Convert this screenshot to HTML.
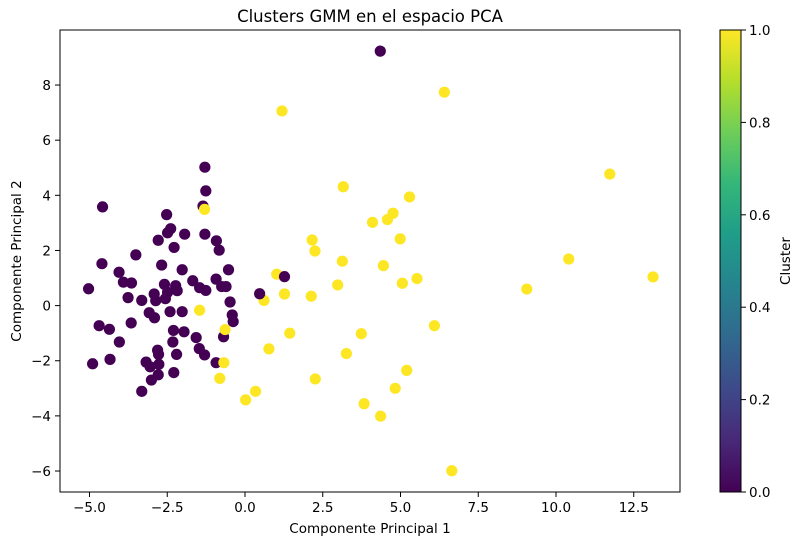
<!DOCTYPE html>
<html><head><meta charset="utf-8"><style>
body{margin:0;background:#fff;}
svg text{font-family:"DejaVu Sans","Liberation Sans",sans-serif;fill:#000;}
</style></head><body>
<svg id="chart" width="803" height="545" xmlns="http://www.w3.org/2000/svg">
<defs><linearGradient id="vir" x1="0" y1="1" x2="0" y2="0">
<stop offset="0" stop-color="#440154"/><stop offset="0.11" stop-color="#482878"/><stop offset="0.22" stop-color="#3e4989"/><stop offset="0.33" stop-color="#31688e"/><stop offset="0.44" stop-color="#26828e"/><stop offset="0.56" stop-color="#1f9e89"/><stop offset="0.67" stop-color="#35b779"/><stop offset="0.78" stop-color="#6ece58"/><stop offset="0.89" stop-color="#b5de2b"/><stop offset="1" stop-color="#fde725"/></linearGradient></defs>
<text x="370" y="22" text-anchor="middle" font-size="16.5">Clusters GMM en el espacio PCA</text>
<g id="points"></g>
<g id="axes"></g>
<rect x="60" y="30" width="620" height="462" fill="none" stroke="#000" stroke-width="1"/>
<text x="370" y="533" text-anchor="middle" font-size="13.5">Componente Principal 1</text>
<text transform="translate(21,261) rotate(-90)" text-anchor="middle" font-size="13.5">Componente Principal 2</text>
<rect x="720" y="30" width="21" height="462" fill="url(#vir)" stroke="#000" stroke-width="1"/>
<g id="cbar"></g>
<text transform="translate(790,261) rotate(-90)" text-anchor="middle" font-size="13.5">Cluster</text>
</svg>
<script>
const xVals=[-1.29,-1.26,-1.35,-4.58,-2.52,-2.39,-2.49,-1.94,-1.29,-2.79,-0.92,-2.28,-0.83,-3.51,-4.60,-2.68,-2.02,-0.53,-4.05,-0.93,-1.68,-3.91,-3.65,-2.59,-2.23,-1.46,-1.26,-0.75,-0.61,-5.03,-2.18,-2.49,-2.92,-3.76,-3.32,-2.87,-2.56,-0.48,-2.41,-2.02,-3.08,-2.91,-0.41,-0.38,-4.69,-4.36,-3.66,-2.30,-1.96,-1.57,-0.69,-2.32,-4.04,-1.47,-2.81,-2.78,-2.20,-1.30,-4.34,-4.90,-3.18,-3.05,-2.77,-0.93,-2.79,-2.29,-3.01,-3.32,4.35,
-1.30,-1.46,-0.64,-0.68,-0.81,3.16,5.29,4.76,4.58,4.10,4.99,2.16,2.25,3.13,4.45,1.02,5.53,5.06,2.98,1.27,2.13,0.61,6.09,1.44,3.74,0.77,3.26,5.20,2.26,4.83,0.34,0.02,3.83,4.36,1.19,6.41,11.73,10.41,9.06,13.12,6.65,
1.27,0.47];
const yVals=[5.02,4.16,3.61,3.58,3.30,2.79,2.64,2.59,2.59,2.37,2.35,2.11,2.01,1.84,1.52,1.47,1.30,1.30,1.21,0.96,0.90,0.85,0.82,0.77,0.72,0.65,0.55,0.69,0.69,0.61,0.54,0.48,0.42,0.29,0.19,0.18,0.25,0.13,-0.22,-0.22,-0.26,-0.44,-0.34,-0.58,-0.73,-0.86,-0.63,-0.90,-0.95,-1.16,-1.13,-1.32,-1.32,-1.56,-1.62,-1.77,-1.77,-1.79,-1.95,-2.11,-2.05,-2.22,-2.13,-2.07,-2.51,-2.43,-2.70,-3.11,9.23,
3.49,-0.17,-0.87,-2.07,-2.64,4.31,3.94,3.35,3.12,3.02,2.42,2.38,1.98,1.61,1.45,1.14,0.98,0.81,0.75,0.42,0.34,0.19,-0.73,-1.00,-1.02,-1.57,-1.74,-2.35,-2.66,-3.00,-3.11,-3.42,-3.56,-4.01,7.06,7.74,4.77,1.69,0.60,1.04,-5.99,
1.05,0.43];
const clusters=[0,0,0,0,0,0,0,0,0,0,0,0,0,0,0,0,0,0,0,0,0,0,0,0,0,0,0,0,0,0,0,0,0,0,0,0,0,0,0,0,0,0,0,0,0,0,0,0,0,0,0,0,0,0,0,0,0,0,0,0,0,0,0,0,0,0,0,0,0,
1,1,1,1,1,1,1,1,1,1,1,1,1,1,1,1,1,1,1,1,1,1,1,1,1,1,1,1,1,1,1,1,1,1,1,1,1,1,1,1,1,
0,0];
const xTicks=[-5,-2.5,0,2.5,5,7.5,10,12.5];
const xTickLabels=["−5.0","−2.5","0.0","2.5","5.0","7.5","10.0","12.5"];
const yTicks=[-6,-4,-2,0,2,4,6,8];
const yTickLabels=["−6","−4","−2","0","2","4","6","8"];
const cTicks=[0,0.2,0.4,0.6,0.8,1.0];
const cTickLabels=["0.0","0.2","0.4","0.6","0.8","1.0"];
const X=v=>245+v*31.1, Y=v=>305.6-v*27.57, C=v=>492-v*462;
const NS="http://www.w3.org/2000/svg";
function mk(t,a,p){const e=document.createElementNS(NS,t);for(const k in a)e.setAttribute(k,a[k]);p.appendChild(e);return e;}
const pts=document.getElementById('points');
xVals.forEach((x,i)=>{
 const c=mk('circle',{cx:X(x),cy:Y(yVals[i]),r:5.6,fill:clusters[i]?'#fde725':'#440154'},pts);
 
 
});
const ax=document.getElementById('axes');
xTicks.forEach((v,i)=>{
 const l=mk('line',{x1:X(v),x2:X(v),y1:492,y2:497,stroke:'#000'},ax);
 
 
 const t=mk('text',{x:X(v),y:512,'text-anchor':'middle','font-size':13.5},ax);t.textContent=xTickLabels[i];
 
 
});
yTicks.forEach((v,i)=>{
 const l=mk('line',{x1:55,x2:60,y1:Y(v),y2:Y(v),stroke:'#000'},ax);
 
 
 const t=mk('text',{x:51,y:Y(v)+5,'text-anchor':'end','font-size':13.5},ax);t.textContent=yTickLabels[i];
 
 
});
const cb=document.getElementById('cbar');
cTicks.forEach((v,i)=>{
 const l=mk('line',{x1:741,x2:746,y1:C(v),y2:C(v),stroke:'#000'},cb);
 
 
 const t=mk('text',{x:749,y:C(v)+5,'font-size':13.5},cb);t.textContent=cTickLabels[i];
 
 
});
</script>
</body></html>
